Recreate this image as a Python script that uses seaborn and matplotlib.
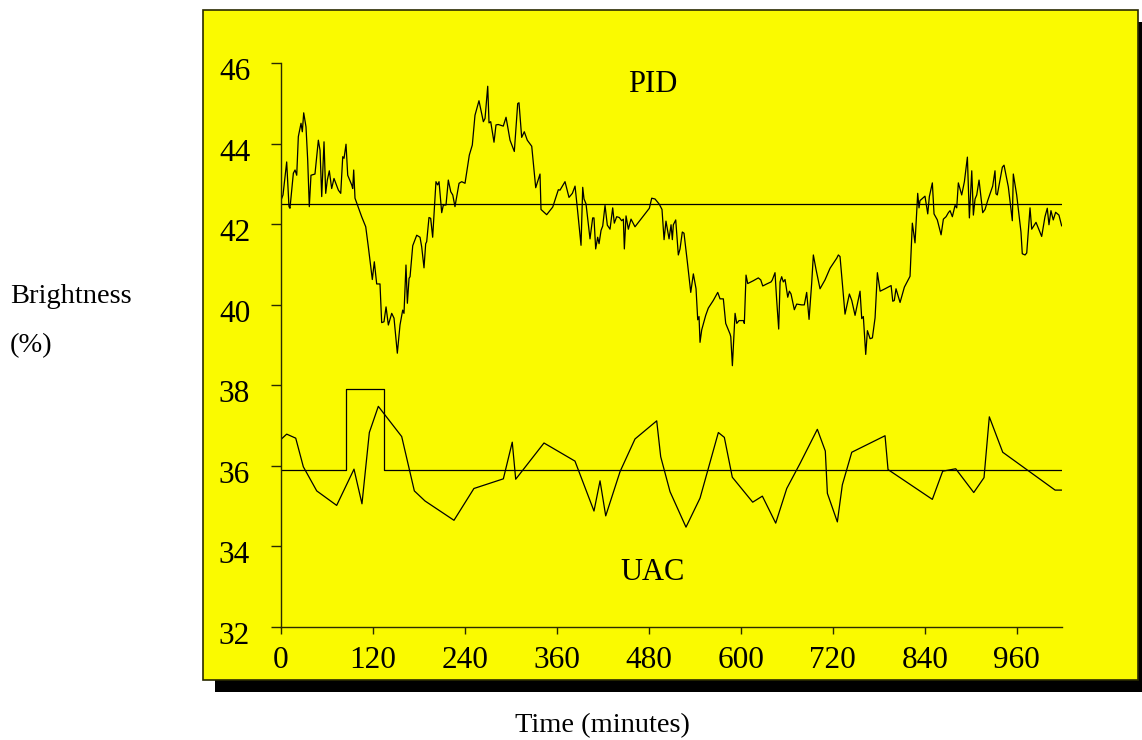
import matplotlib
matplotlib.use("Agg")
import matplotlib.pyplot as plt
import matplotlib.transforms as mtransforms
import pandas as pd
import seaborn as sns
from matplotlib.patches import Rectangle

# ---- data (time in minutes, brightness in %) ----
pid_t = [0.4, 3.0, 7.8, 10.8, 12.1, 16.5, 18.7, 20.9, 23.0, 26.5, 28.2, 30.0, 33.0, 35.2, 37.3,
         39.5, 44.7, 49.1, 51.3, 53.5, 56.5, 58.7, 60.8, 63.4, 66.5, 69.5, 75.2, 78.3, 80.9, 82.6,
         85.2, 87.4, 92.6, 93.9, 95.2, 96.9, 105.6, 110.9, 114.3, 119.5, 122.1, 125.2, 129.5, 131.7,
         134.7, 137.4, 140.4, 144.8, 147.8, 152.1, 155.6, 159.1, 160.8, 163.4, 165.2, 167.4, 168.7,
         172.2, 177.4, 181.7, 183.9, 186.9, 189.1, 190.4, 193.4, 195.6, 198.2, 202.5, 204.7, 206.5,
         210.0, 212.1, 215.6, 218.6, 221.8, 224.4, 227.3, 232.6, 236.1, 240.4, 246.0, 249.9,
         253.4, 258.6, 264.3, 266.5, 270.0, 271.7, 273.9, 278.2, 280.8, 283.8, 290.3, 293.9, 299.1,
         304.7, 309.1, 310.8, 314.3, 317.7, 321.6, 327.4, 332.6, 338.2, 339.5, 346.9, 354.8, 362.1,
         364.3, 370.8, 376.0, 380.4, 383.9, 386.9, 391.7, 393.9, 395.6, 398.2, 403.4, 406.9, 408.6,
         410.8, 413.4, 415.2, 417.8, 420.0, 423.0, 426.0, 429.5, 433.0, 435.1, 438.2, 441.6, 444.7,
         446.9, 448.2, 450.4, 453.4, 456.9, 462.1, 480.8, 483.9, 488.2, 493.8, 497.3, 500.0, 502.5,
         506.5, 509.1, 510.8, 512.1, 515.2, 518.6, 520.8, 523.8, 526.0, 530.4, 534.8, 538.2, 541.7,
         543.9, 545.6, 546.9, 549.1, 554.3, 557.7, 564.2, 570.0, 573.0, 577.3, 580.4, 586.0, 587.0,
         589.1, 592.6, 594.8, 597.8, 603.4, 604.7, 606.9, 609.1, 616.4, 622.9, 626.1, 628.7, 633.9,
         639.5, 641.2, 644.7, 646.9, 649.5, 651.3, 653.4, 655.5, 657.8, 661.3, 663.4, 665.6, 669.9,
         673.0, 679.5, 682.9, 686.0, 689.1, 692.5, 694.7, 698.2, 703.4, 709.9, 716.5, 725.2, 727.3,
         729.5, 736.0, 741.7, 744.8, 749.1, 755.6, 757.8, 759.9, 763.0, 765.2, 768.7, 771.7, 775.2,
         778.2, 781.8, 788.2, 796.1, 798.3, 800.3, 802.5, 807.8, 813.4, 820.8, 823.8, 827.3, 830.8,
         832.5, 833.8, 840.3, 843.9, 846.0, 849.9, 852.1, 856.4, 861.3, 864.3, 867.8, 870.8, 873.0,
         876.0, 879.5, 881.7, 883.8, 888.2, 891.7, 895.6, 898.2, 901.3, 903.4, 905.6, 907.8, 910.8,
         915.6, 918.6, 922.1, 928.6, 931.6, 932.9, 934.6, 941.2, 943.4, 949.0, 954.2, 955.5, 959.9,
         965.5, 967.2, 970.8, 973.0, 977.3, 979.5, 985.1, 992.5, 996.8, 999.8, 1002.0, 1004.6,
         1007.6, 1010.7, 1015.0, 1018.6]
pid_v = [42.60, 42.73, 43.55, 42.44, 42.40, 43.27, 43.35, 43.22, 44.18, 44.51, 44.30, 44.77, 44.42,
         43.60, 42.44, 43.22, 43.25, 44.09, 43.84, 42.69, 44.05, 42.77, 43.10, 43.33, 42.89, 43.14,
         42.85, 42.77, 43.68, 43.64, 43.99, 43.22, 42.98, 42.89, 43.35, 42.65, 42.19, 41.94, 41.44,
         40.63, 41.07, 40.52, 40.52, 39.56, 39.58, 39.95, 39.50, 39.79, 39.67, 38.80, 39.50, 39.87,
         39.79, 40.99, 40.04, 40.66, 40.70, 41.47, 41.73, 41.68, 41.44, 40.92, 41.52, 41.57, 42.17,
         42.15, 41.68, 43.06, 42.98, 43.06, 42.29, 42.48, 42.48, 43.10, 42.81, 42.73, 42.44, 43.02,
         43.06, 43.02, 43.72, 43.97,
         44.71, 45.07, 44.55, 44.63, 45.43, 44.52, 44.55, 44.04, 44.47, 44.48, 44.44, 44.66, 44.09,
         43.81, 45.00, 45.02, 44.16, 44.30, 44.09, 43.94, 42.91, 43.25, 42.37, 42.24, 42.43, 42.86,
         42.85, 43.06, 42.67, 42.77, 42.95, 42.40, 41.48, 42.92, 42.63, 42.51, 41.64, 42.16, 42.16,
         41.39, 41.68, 41.52, 41.85, 41.96, 42.47, 41.98, 41.88, 42.41, 42.03, 42.19, 42.17, 42.09,
         42.13, 41.39, 42.21, 41.88, 42.13, 41.94, 42.40, 42.65, 42.63, 42.50, 42.37, 41.62, 42.08,
         41.64, 41.99, 41.62, 41.99, 42.11, 41.24, 41.39, 41.81, 41.78, 41.06, 40.31, 40.77, 40.40,
         39.63, 39.71, 39.07, 39.38, 39.74, 39.92, 40.11, 40.31, 40.15, 40.15, 39.54, 39.28, 39.21,
         38.49, 39.79, 39.54, 39.61, 39.61, 39.54, 40.74, 40.53, 40.60, 40.67, 40.62, 40.47, 40.52,
         40.57, 40.62, 40.80, 40.11, 39.40, 40.57, 40.70, 40.57, 40.63, 40.19, 40.34, 40.27, 39.88,
         40.02, 40.00, 40.00, 40.31, 39.64, 40.53, 41.24, 40.88, 40.40, 40.62, 40.91, 41.16, 41.24,
         41.20, 39.77, 40.27, 40.11, 39.74, 40.34, 39.66, 39.71, 38.77, 39.36, 39.16, 39.18, 39.68,
         40.80, 40.34, 40.40, 40.48, 40.09, 40.11, 40.40, 40.06, 40.44, 40.71, 42.03, 41.54, 42.77,
         42.41, 42.59, 42.70, 42.26, 42.69, 43.03, 42.26, 42.11, 41.74, 42.13, 42.19, 42.29, 42.34,
         42.19, 42.47, 42.41, 43.03, 42.73, 43.06, 43.67, 42.16, 43.33, 42.23, 42.63, 42.73, 43.10,
         42.29, 42.37, 42.59, 42.95, 43.33, 42.76, 42.73, 43.42, 43.47, 42.93, 42.09, 43.25, 42.73,
         41.81, 41.27, 41.24, 41.29, 42.41, 41.88, 42.05, 41.70, 42.19, 42.40, 41.99, 42.34,
         42.11, 42.30, 42.23, 41.96]

uac_t = [0.4, 7.8, 19.6, 29.5, 47.0, 73.0, 95.6, 106.0, 115.6, 127.3, 157.8, 174.3, 188.2, 226.0,
         252.0, 290.4, 302.0, 306.5, 343.4, 383.8, 408.6, 416.5, 423.9, 442.6, 462.1, 490.4, 495.6,
         507.8, 528.6, 546.9, 570.8, 578.6, 589.0, 615.6, 628.2, 645.6, 660.0, 677.3, 699.9, 710.3,
         713.0, 726.0, 732.5, 744.8, 788.2, 792.1, 849.9, 863.4, 880.4, 903.9, 917.3, 924.2, 941.7,
         1010.0, 1018.6]
uac_v = [36.66, 36.79, 36.69, 35.98, 35.38, 35.02, 35.92, 35.06, 36.83, 37.48, 36.73, 35.38, 35.13,
         34.65, 35.44, 35.68, 36.59, 35.67, 36.57, 36.12, 34.88, 35.63, 34.76, 35.86, 36.67, 37.12,
         36.23, 35.36, 34.48, 35.20, 36.83, 36.71, 35.72, 35.10, 35.25, 34.58, 35.44, 36.06, 36.91,
         36.37, 35.32, 34.61, 35.53, 36.34, 36.75, 35.91, 35.17, 35.87, 35.93, 35.34, 35.71, 37.22,
         36.34, 35.40, 35.40]

# setpoints
pid_sp_t = [0, 1019]
pid_sp_v = [42.5, 42.5]
uac_sp_t = [0, 85, 85, 135, 135, 1019]
uac_sp_v = [35.9, 35.9, 37.9, 37.9, 35.9, 35.9]

x_ticks = [0, 120, 240, 360, 480, 600, 720, 840, 960]
y_ticks = [32, 34, 36, 38, 40, 42, 44, 46]

# ---- style ----
sns.set_theme(style="white")
plt.rcParams["font.family"] = ["Liberation Serif", "DejaVu Serif"]

W, H = 1142, 740
fig = plt.figure(figsize=(W / 100, H / 100), dpi=100)
fig.patch.set_facecolor("white")


def fx(px):
    return px / W


def fy(py):
    return 1 - py / H


# panel with drop shadow, kept beneath the axes
fig.patches.append(Rectangle((fx(215), fy(692)), (1170 - 215) / W, (692 - 22) / H,
                             transform=fig.transFigure, facecolor="black",
                             edgecolor="none", zorder=-3))
fig.patches.append(Rectangle((fx(203), fy(680)), (1138 - 203) / W, (680 - 10) / H,
                             transform=fig.transFigure, facecolor="#FAFA00",
                             edgecolor="#2a2a00", linewidth=1.2, zorder=-2))

ax = fig.add_axes([fx(280.7), fy(627), (1062 - 280.7) / W, (627 - 63.3) / H])
ax.set_zorder(2)
ax.patch.set_alpha(0)

line_kw = dict(ax=ax, color="black", linewidth=0.9, estimator=None, sort=False)
sns.lineplot(x=pid_t, y=pid_v, **line_kw)
sns.lineplot(x=pid_sp_t, y=pid_sp_v, **line_kw)
sns.lineplot(x=uac_t, y=uac_v, **line_kw)
sns.lineplot(x=uac_sp_t, y=uac_sp_v, **line_kw)

ax.set_xlim(0, 1019)
ax.set_ylim(32, 46)
ax.set_xticks(x_ticks)
ax.set_yticks(y_ticks)
ax.set_xlabel("")
ax.set_ylabel("")

for side in ("top", "right"):
    ax.spines[side].set_visible(False)
for side in ("left", "bottom"):
    ax.spines[side].set_color("#2a2a00")
    ax.spines[side].set_linewidth(1.0)

ax.tick_params(axis="y", left=True, direction="out", length=7, width=1.0,
               color="#2a2a00", labelsize=22.5, pad=15, labelcolor="black")
ax.tick_params(axis="x", bottom=True, direction="out", length=5, width=1.0,
               color="#2a2a00", labelsize=22.5, pad=9, labelcolor="black")

# y tick numbers sit slightly below their tick marks
shift = mtransforms.ScaledTranslation(0, -6 / 100, fig.dpi_scale_trans)
for lab in ax.get_yticklabels():
    lab.set_transform(lab.get_transform() + shift)

ax.text(485, 45.29, "PID", ha="center", va="baseline", fontsize=22, color="black")
ax.text(485, 33.17, "UAC", ha="center", va="baseline", fontsize=22, color="black")

fig.text(fx(10), fy(303.3), "Brightness", ha="left", va="baseline", fontsize=20.5, color="black")
fig.text(fx(10), fy(351.7), "(%)", ha="left", va="baseline", fontsize=20.5, color="black")
fig.text(fx(602), fy(732), "Time (minutes)", ha="center", va="baseline", fontsize=20.5,
         color="black")

fig.savefig("out.png", dpi=100)
